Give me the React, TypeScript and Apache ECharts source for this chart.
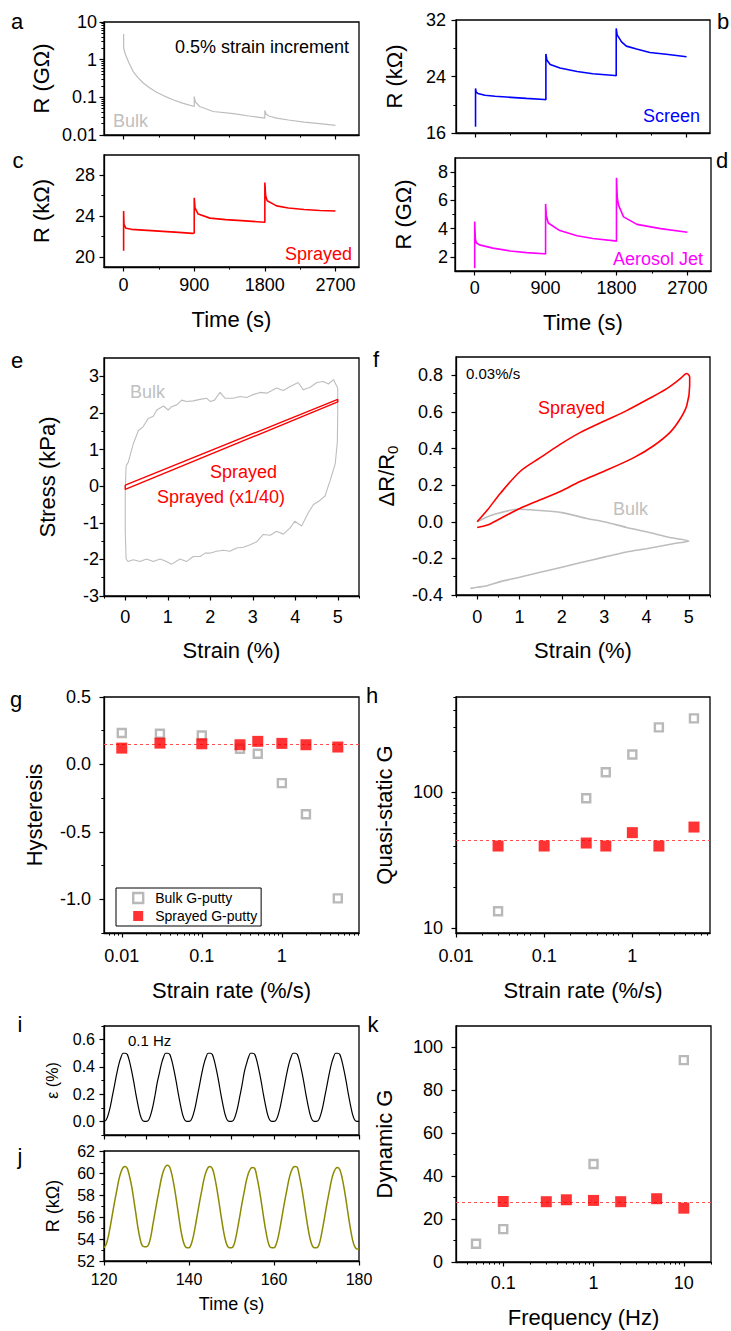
import React, { useEffect, useRef } from "react";
import * as echarts from "echarts";

const FONT = "'Liberation Sans', Arial, Helvetica, sans-serif";

// ---------------- data ----------------
// a: bulk G-putty, step strain (GΩ)
const bulkStepTime = [0, 0, 15, 35, 70, 120, 180, 250, 330, 420, 520, 630, 760, 900, 900, 915, 970, 1140, 1400, 1600, 1800, 1800, 1815, 1850, 1950, 2100, 2300, 2500, 2700];
const bulkStepR = [4.8, 2.05, 1.55, 1.2, 0.8, 0.49, 0.34, 0.24, 0.18, 0.137, 0.108, 0.086, 0.069, 0.057, 0.105, 0.075, 0.057, 0.042, 0.037, 0.032, 0.028, 0.045, 0.036, 0.032, 0.028, 0.025, 0.022, 0.02, 0.018];
// b: screen printed (kΩ)
const screenTime = [0, 0, 8, 30, 120, 250, 450, 650, 880, 900, 900, 912, 955, 1080, 1300, 1500, 1780, 1800, 1800, 1812, 1868, 1930, 2060, 2230, 2440, 2700];
const screenR = [16.9, 22.3, 21.8, 21.6, 21.35, 21.2, 21.05, 20.9, 20.75, 20.7, 27.2, 26.35, 25.7, 25.2, 24.7, 24.4, 24.15, 24.1, 30.8, 29.9, 28.9, 28.3, 27.9, 27.4, 27.15, 26.8];
// c: sprayed (kΩ)
const sprayTime = [0, 0, 5, 30, 100, 300, 500, 700, 880, 900, 900, 910, 950, 1100, 1300, 1500, 1700, 1800, 1800, 1810, 1830, 1950, 2100, 2300, 2500, 2700];
const sprayR = [20.6, 24.5, 23.2, 22.8, 22.7, 22.6, 22.5, 22.4, 22.3, 22.35, 25.8, 24.8, 24.2, 23.8, 23.65, 23.55, 23.45, 23.4, 27.3, 26.0, 25.5, 25.0, 24.8, 24.65, 24.55, 24.5];
// d: aerosol jet (GΩ)
const aerosolTime = [0, 0, 8, 20, 60, 230, 450, 660, 880, 900, 900, 910, 934, 1080, 1300, 1500, 1780, 1800, 1800, 1810, 1827, 1890, 2060, 2360, 2700];
const aerosolR = [1.2, 4.5, 3.3, 3.0, 2.85, 2.62, 2.42, 2.3, 2.22, 2.2, 5.75, 4.9, 4.4, 3.86, 3.5, 3.3, 3.13, 3.1, 7.6, 6.2, 5.65, 4.83, 4.3, 4.0, 3.74];

// e: stress-strain loops
const bulkStressStrain = [0.02, 0.07, 0.19, 0.31, 0.42, 0.54, 0.66, 0.74, 0.9, 1.01, 1.09, 1.21, 1.33, 1.44, 1.6, 1.76, 1.92, 2.0, 2.1, 2.23, 2.35, 2.54, 2.7, 2.86, 3.01, 3.17, 3.33, 3.45, 3.56, 3.72, 3.88, 4.07, 4.19, 4.35, 4.51, 4.66, 4.78, 4.9, 4.98, 5.0, 5.0, 4.99, 4.94, 4.82, 4.7, 4.58, 4.43, 4.31, 4.15, 3.99, 3.88, 3.72, 3.56, 3.41, 3.25, 3.09, 2.94, 2.78, 2.62, 2.46, 2.31, 2.15, 1.99, 1.88, 1.76, 1.6, 1.44, 1.29, 1.09, 0.97, 0.82, 0.66, 0.5, 0.35, 0.19, 0.07, 0.02, 0, 0, 0, 0.02];
const bulkStress = [0.56, 0.65, 1.16, 1.52, 1.62, 1.85, 1.91, 2.08, 2.19, 2.08, 2.17, 2.22, 2.35, 2.31, 2.33, 2.37, 2.4, 2.31, 2.35, 2.56, 2.4, 2.4, 2.45, 2.42, 2.5, 2.56, 2.54, 2.61, 2.68, 2.61, 2.72, 2.83, 2.63, 2.7, 2.83, 2.86, 2.79, 2.91, 2.72, 2.67, 1.99, 1.2, 0.61, 0.15, -0.27, -0.39, -0.5, -0.72, -1.09, -0.96, -1.14, -1.31, -1.23, -1.34, -1.32, -1.52, -1.6, -1.67, -1.69, -1.78, -1.75, -1.78, -1.83, -1.83, -1.92, -1.92, -2.06, -1.99, -2.13, -2.06, -1.99, -2.06, -1.99, -2.06, -2.01, -2.06, -1.99, -1.23, -0.68, -0.13, 0.56];
const sprayStressStrain = [0, 5, 5, 0, 0];
const sprayStress = [0.03, 2.37, 2.3, -0.09, 0.03];

// f: relative resistance change vs strain
const sprayLoopStrain = [0, 0.24, 0.55, 1.02, 1.49, 1.96, 2.43, 3.0, 3.53, 4.0, 4.47, 4.79, 4.95, 5.02, 5.02, 4.95, 4.79, 4.55, 4.16, 3.69, 3.0, 2.43, 1.96, 1.49, 1.02, 0.55, 0.24, 0];
const sprayLoopDR = [0, 0.064, 0.156, 0.276, 0.35, 0.423, 0.487, 0.55, 0.607, 0.665, 0.726, 0.78, 0.81, 0.79, 0.745, 0.634, 0.56, 0.487, 0.414, 0.349, 0.276, 0.22, 0.165, 0.12, 0.074, 0.018, -0.018, -0.031];
const bulkLoopStrain = [0, 0.39, 1.0, 1.33, 2.0, 2.59, 3.0, 3.53, 4.0, 4.55, 5.0, 4.63, 4.0, 3.53, 3.0, 2.43, 2.0, 1.49, 1.0, 0.55, 0.235, 0, -0.16];
const bulkLoopDR = [0, 0.04, 0.068, 0.064, 0.05, 0.018, 0.0, -0.031, -0.055, -0.086, -0.105, -0.12, -0.147, -0.165, -0.193, -0.224, -0.248, -0.276, -0.303, -0.327, -0.349, -0.358, -0.364];

// g: hysteresis vs strain rate
const hystRate = [0.01, 0.03, 0.1, 0.3, 0.5, 1, 2, 5];
const hystBulk = [0.233, 0.228, 0.215, 0.116, 0.079, -0.139, -0.369, -0.993];
const hystSprayed = [0.121, 0.158, 0.153, 0.146, 0.171, 0.156, 0.146, 0.129];
const hystSprayedMean = 0.146;

// h: quasi-static gauge factor
const qsBulkRate = [0.03, 0.3, 0.5, 1, 2, 5];
const qsBulk = [13.3, 90, 140, 189, 299, 348];
const qsSprayedRate = [0.03, 0.1, 0.3, 0.5, 1, 2, 5];
const qsSprayed = [40.1, 40.1, 42.2, 40.1, 50.3, 40.1, 55.3];
const qsSprayedMean = 44.1;

// i, j: cyclic strain at 0.1 Hz, sampled every 0.5 s from 120 s
const cycleStart = 120;
const cycleStep = 0.5;
const cycleStrain = [
  0.00, 0.01, 0.05, 0.11, 0.19, 0.27, 0.35, 0.42, 0.47, 0.50, 0.50, 0.49, 0.44, 0.37, 0.29, 0.20, 0.12, 0.05, 0.01, 0.00,
  0.00, 0.01, 0.05, 0.11, 0.19, 0.28, 0.35, 0.42, 0.47, 0.50, 0.50, 0.49, 0.44, 0.37, 0.29, 0.20, 0.12, 0.05, 0.01, 0.00,
  0.00, 0.01, 0.05, 0.11, 0.19, 0.27, 0.35, 0.42, 0.47, 0.50, 0.50, 0.49, 0.44, 0.37, 0.29, 0.20, 0.12, 0.05, 0.01, 0.00,
  0.00, 0.01, 0.05, 0.11, 0.19, 0.27, 0.36, 0.42, 0.47, 0.50, 0.50, 0.49, 0.44, 0.37, 0.29, 0.20, 0.12, 0.05, 0.01, 0.00,
  0.00, 0.01, 0.05, 0.11, 0.19, 0.27, 0.35, 0.42, 0.47, 0.50, 0.50, 0.49, 0.44, 0.37, 0.29, 0.20, 0.12, 0.05, 0.01, 0.00,
  0.00, 0.01, 0.05, 0.11, 0.19, 0.27, 0.35, 0.42, 0.47, 0.50, 0.50, 0.49, 0.44, 0.37, 0.29, 0.20, 0.12, 0.05, 0.01, 0.00,
  0.00,
];
const cycleR = [
  53.2, 53.5, 54.2, 55.2, 56.3, 57.4, 58.4, 59.4, 60.1, 60.5, 60.6, 60.4, 59.7, 58.8, 57.6, 56.3, 55.0, 54.0, 53.4, 53.3,
  53.3, 53.5, 54.2, 55.3, 56.4, 57.5, 58.5, 59.5, 60.2, 60.6, 60.7, 60.5, 59.8, 58.8, 57.6, 56.3, 55.0, 54.0, 53.4, 53.2,
  53.2, 53.5, 54.2, 55.2, 56.3, 57.4, 58.4, 59.4, 60.1, 60.5, 60.6, 60.4, 59.7, 58.7, 57.5, 56.2, 55.0, 54.0, 53.4, 53.2,
  53.2, 53.4, 54.1, 55.1, 56.2, 57.3, 58.3, 59.3, 60.0, 60.4, 60.5, 60.4, 59.6, 58.6, 57.4, 56.1, 54.9, 53.9, 53.3, 53.2,
  53.2, 53.5, 54.2, 55.2, 56.3, 57.4, 58.4, 59.4, 60.1, 60.5, 60.6, 60.5, 59.7, 58.7, 57.5, 56.2, 55.0, 54.0, 53.4, 53.2,
  53.2, 53.4, 54.1, 55.1, 56.2, 57.3, 58.3, 59.3, 60.0, 60.4, 60.5, 60.3, 59.6, 58.6, 57.4, 56.1, 54.9, 53.9, 53.3, 53.1,
  53.1,
];

// k: dynamic gauge factor
const dynBulkFreq = [0.05, 0.1, 1, 10];
const dynBulk = [8.5, 15.3, 45.7, 94.1];
const dynSprayedFreq = [0.1, 0.3, 0.5, 1, 2, 5, 10];
const dynSprayed = [28.2, 28.1, 29.0, 28.7, 28.1, 29.5, 25.1];
const dynSprayedMean = 27.9;

// tick values
const timeMajor = [0, 900, 1800, 2700];
const timeMinor = [450, 1350, 2250];
const strainMajor = [0, 1, 2, 3, 4, 5];
const strainMinor = [-0.5, 0.5, 1.5, 2.5, 3.5, 4.5, 5.5];
const logMinor = (decades: number[], upTo = 9) => {
  const out: number[] = [];
  decades.forEach((d) => {
    for (let m = 2; m <= upTo; m++) out.push(+(m * d).toPrecision(3));
  });
  return out;
};

// ---------------- helpers ----------------
type AxisSpec = {
  type: "value" | "log";
  min: number;
  max: number;
  major: number[];
  minor: number[];
  labels?: boolean;
  fmt?: (v: number) => string;
  margin?: number;
  fontSize?: number;
  name?: string;
  nameGap?: number;
  nameSize?: number;
  rich?: any;
};

const TICK = 18;
const TITLE = 22;
const NOTE = 18;

function buildAxes(dim: "x" | "y", grid: number, s: AxisSpec) {
  const position = dim === "x" ? "bottom" : "left";
  const main: any = {
    type: s.type,
    gridIndex: grid,
    position,
    min: s.min,
    max: s.max,
    logBase: 10,
    axisLine: { show: true, onZero: false, lineStyle: { color: "#000", width: 1.3 } },
    axisTick: { show: true, inside: false, length: 4.5, customValues: s.major, lineStyle: { color: "#000", width: 1.2 } },
    axisLabel: {
      show: s.labels !== false,
      customValues: s.major,
      margin: s.margin ?? 8,
      color: "#000",
      fontSize: s.fontSize ?? TICK,
      fontFamily: FONT,
      formatter: s.fmt ?? ((v: number) => String(v)),
      hideOverlap: false,
    },
    splitLine: { show: false },
    minorTick: { show: false },
    minorSplitLine: { show: false },
  };
  if (s.name) {
    main.name = s.name;
    main.nameLocation = "middle";
    main.nameGap = s.nameGap;
    main.nameTextStyle = { color: "#000", fontSize: s.nameSize ?? TITLE, fontFamily: FONT, rich: s.rich };
  }
  const minor: any = {
    type: s.type,
    gridIndex: grid,
    position,
    min: s.min,
    max: s.max,
    logBase: 10,
    axisLine: { show: false, onZero: false },
    axisTick: { show: true, inside: false, length: 2.6, customValues: s.minor, lineStyle: { color: "#000", width: 1 } },
    axisLabel: { show: false },
    splitLine: { show: false },
  };
  return [main, minor];
}

function buildOption() {
  const grids: any[] = [];
  const xAxes: any[] = [];
  const yAxes: any[] = [];
  const series: any[] = [];

  const panel = (rect: number[], xs: AxisSpec, ys: AxisSpec) => {
    const g = grids.length;
    grids.push({
      left: rect[0], top: rect[1], width: rect[2], height: rect[3],
      show: true, borderColor: "#000", borderWidth: 1.3, backgroundColor: "transparent",
    });
    const xi = xAxes.length;
    xAxes.push(...buildAxes("x", g, xs));
    const yi = yAxes.length;
    yAxes.push(...buildAxes("y", g, ys));
    return { xi, yi };
  };

  const line = (p: any, xs: number[], ys: number[], color: string, width = 1.2, smooth: any = false) => ({
    type: "line",
    xAxisIndex: p.xi,
    yAxisIndex: p.yi,
    data: xs.map((x, i) => [x, ys[i]]),
    showSymbol: false,
    symbol: "none",
    smooth,
    lineStyle: { color, width },
    itemStyle: { color },
    silent: true,
  });

  const hollow = (p: any, name: string, xs: number[], ys: number[]) => ({
    type: "scatter",
    name,
    xAxisIndex: p.xi,
    yAxisIndex: p.yi,
    data: xs.map((x, i) => [x, ys[i]]),
    symbol: "rect",
    symbolSize: 8,
    itemStyle: { color: "#ffffff", borderColor: "#b9b9b9", borderWidth: 2.4, opacity: 1 },
    silent: true,
    z: 3,
  });

  const filled = (p: any, name: string, xs: number[], ys: number[], mean: number) => ({
    type: "scatter",
    name,
    xAxisIndex: p.xi,
    yAxisIndex: p.yi,
    data: xs.map((x, i) => [x, ys[i]]),
    symbol: "rect",
    symbolSize: 11,
    itemStyle: { color: "#ff0000" },
    silent: true,
    z: 4,
    markLine: {
      silent: true,
      symbol: ["none", "none"],
      label: { show: false },
      lineStyle: { color: "#ff4d4d", type: [3, 3], width: 1.2 },
      data: [{ yAxis: mean }],
      z: 2,
    },
  });

  const timeX = (labels: boolean): AxisSpec => ({
    type: "value", min: -250, max: 3000, major: timeMajor, minor: timeMinor, labels,
    margin: 9, name: labels ? "Time (s)" : undefined, nameGap: 41,
  });
  const f1 = (v: number) => v.toFixed(1);

  // a
  const pa = panel([104, 22, 255, 113], timeX(false), {
    type: "log", min: 0.01, max: 10, major: [0.01, 0.1, 1, 10], minor: logMinor([0.01, 0.1, 1]),
    margin: 7, name: "R (GΩ)", nameGap: 52,
  });
  series.push(line(pa, bulkStepTime, bulkStepR, "#bdbdbd", 1.2));
  // b
  const pb = panel([456, 20, 254, 113], timeX(false), {
    type: "value", min: 16, max: 32, major: [16, 24, 32], minor: [20, 28],
    margin: 10, name: "R (kΩ)", nameGap: 51,
  });
  series.push(line(pb, screenTime, screenR, "#0000ff", 1.6));
  // c
  const pc = panel([104, 155, 255, 112], timeX(true), {
    type: "value", min: 19, max: 30, major: [20, 24, 28], minor: [22, 26],
    margin: 9, name: "R (kΩ)", nameGap: 52,
  });
  series.push(line(pc, sprayTime, sprayR, "#ff0000", 1.6));
  // d
  const pd = panel([455, 158, 256, 113], { ...timeX(true), margin: 8, nameGap: 40 }, {
    type: "value", min: 1, max: 9, major: [2, 4, 6, 8], minor: [3, 5, 7],
    margin: 7, name: "R (GΩ)", nameGap: 41,
  });
  series.push(line(pd, aerosolTime, aerosolR, "#ff00ff", 1.6));

  // e
  const pe = panel([104, 358, 255, 238], {
    type: "value", min: -0.5, max: 5.5, major: strainMajor, minor: strainMinor,
    margin: 12, name: "Strain (%)", nameGap: 43,
  }, {
    type: "value", min: -3, max: 3.5, major: [-3, -2, -1, 0, 1, 2, 3], minor: [-2.5, -1.5, -0.5, 0.5, 1.5, 2.5],
    margin: 5, name: "Stress (kPa)", nameGap: 46,
  });
  series.push(line(pe, bulkStressStrain, bulkStress, "#bdbdbd", 1.1));
  series.push(line(pe, sprayStressStrain, sprayStress, "#ff0000", 1.4));

  // f
  const pf = panel([456, 357, 254, 238], {
    type: "value", min: -0.5, max: 5.5, major: strainMajor, minor: strainMinor,
    margin: 13, name: "Strain (%)", nameGap: 44,
  }, {
    type: "value", min: -0.4, max: 0.9,
    major: [-0.4, -0.2, 0, 0.2, 0.4, 0.6, 0.8], minor: [-0.3, -0.1, 0.1, 0.3, 0.5, 0.7],
    fmt: f1, margin: 13, name: "ΔR/R{s|0}", nameGap: 56,
    rich: { s: { fontSize: 15, fontFamily: FONT, color: "#000", verticalAlign: "bottom", padding: [12, 0, 0, 0] } },
  });
  series.push(line(pf, bulkLoopStrain, bulkLoopDR, "#bdbdbd", 1.6, 0.3));
  series.push(line(pf, sprayLoopStrain, sprayLoopDR, "#ff0000", 1.6, 0.3));

  // g
  const pg = panel([104, 697, 255, 236], {
    type: "log", min: 0.006, max: 9.2, major: [0.01, 0.1, 1],
    minor: [0.007, 0.008, 0.009, ...logMinor([0.01, 0.1, 1])],
    margin: 14, name: "Strain rate (%/s)", nameGap: 46,
  }, {
    type: "value", min: -1.25, max: 0.5, major: [-1, -0.5, 0, 0.5], minor: [-1.25, -0.75, -0.25, 0.25],
    fmt: f1, margin: 13, name: "Hysteresis", nameGap: 59,
  });
  series.push(hollow(pg, "Bulk G-putty", hystRate, hystBulk));
  series.push(filled(pg, "Sprayed G-putty", hystRate, hystSprayed, hystSprayedMean));

  // h
  const ph = panel([456, 697, 254, 236], {
    type: "log", min: 0.01, max: 7.6, major: [0.01, 0.1, 1], minor: logMinor([0.01, 0.1, 1], 7),
    margin: 14, name: "Strain rate (%/s)", nameGap: 46,
  }, {
    type: "log", min: 9.2, max: 500, major: [10, 100], minor: [...logMinor([10]), 200, 300, 400, 500],
    margin: 13, name: "Quasi-static G", nameGap: 61,
  });
  series.push(hollow(ph, "Bulk G-putty", qsBulkRate, qsBulk));
  series.push(filled(ph, "Sprayed G-putty", qsSprayedRate, qsSprayed, qsSprayedMean));

  // i
  const cycleTime = cycleStrain.map((_, k) => cycleStart + k * cycleStep);
  const pi = panel([104, 1026, 255, 109], {
    type: "value", min: 120, max: 180, major: [120, 130, 140, 150, 160, 170, 180],
    minor: [125, 135, 145, 155, 165, 175], labels: false,
  }, {
    type: "value", min: -0.1, max: 0.7, major: [0, 0.2, 0.4, 0.6], minor: [-0.1, 0.1, 0.3, 0.5, 0.7],
    fmt: f1, margin: 9, fontSize: 16, name: "ε (%)", nameGap: 44, nameSize: 16,
  });
  series.push(line(pi, cycleTime, cycleStrain, "#000000", 1.2, 0.35));

  // j
  const pj = panel([104, 1151, 255, 110], {
    type: "value", min: 120, max: 180, major: [120, 140, 160, 180], minor: [130, 150, 170],
    margin: 10, fontSize: 16, name: "Time (s)", nameGap: 34, nameSize: 18,
  }, {
    type: "value", min: 52, max: 62, major: [52, 54, 56, 58, 60, 62], minor: [53, 55, 57, 59, 61],
    margin: 9, fontSize: 16, name: "R (kΩ)", nameGap: 42, nameSize: 18,
  });
  series.push(line(pj, cycleTime, cycleR, "#8c8a00", 1.5, 0.35));

  // k
  const pk = panel([456, 1026, 255, 236], {
    type: "log", min: 0.03, max: 20, major: [0.1, 1, 10],
    minor: [0.04, 0.05, 0.06, 0.07, 0.08, 0.09, ...logMinor([0.1, 1]), 20],
    margin: 12, name: "Frequency (Hz)", nameGap: 44,
  }, {
    type: "value", min: 0, max: 110, major: [0, 20, 40, 60, 80, 100], minor: [10, 30, 50, 70, 90],
    margin: 13, name: "Dynamic G", nameGap: 61,
  });
  series.push(hollow(pk, "Bulk G-putty", dynBulkFreq, dynBulk));
  series.push(filled(pk, "Sprayed G-putty", dynSprayedFreq, dynSprayed, dynSprayedMean));

  const txt = (text: string, x: number, y: number, color = "#000", size = NOTE, align = "left") => ({
    type: "text",
    x,
    y,
    silent: true,
    z: 100,
    style: { text, fill: color, fontSize: size, fontFamily: FONT, align, verticalAlign: "middle" },
  });

  const graphics = [
    txt("a", 17, 21, "#000", 22, "center"),
    txt("b", 723, 21, "#000", 22, "center"),
    txt("c", 18, 160, "#000", 22, "center"),
    txt("d", 722, 160, "#000", 22, "center"),
    txt("e", 17, 360, "#000", 22, "center"),
    txt("f", 376, 359, "#000", 22, "center"),
    txt("g", 16, 699, "#000", 22, "center"),
    txt("h", 372, 695, "#000", 22, "center"),
    txt("i", 20, 1024, "#000", 22, "center"),
    txt("j", 20, 1156, "#000", 22, "center"),
    txt("k", 373, 1024, "#000", 22, "center"),
    txt("0.5% strain increment", 175, 47, "#000", NOTE),
    txt("Bulk", 113, 121, "#c0c0c0", NOTE),
    txt("Screen", 643, 116, "#0000ff", NOTE),
    txt("Sprayed", 352, 254, "#ff0000", NOTE, "right"),
    txt("Aerosol Jet", 703, 259, "#ff00ff", NOTE, "right"),
    txt("Bulk", 130, 392, "#c0c0c0", NOTE),
    txt("Sprayed", 210, 472, "#ff0000", NOTE),
    txt("Sprayed (x1/40)", 157, 497, "#ff0000", NOTE),
    txt("0.03%/s", 466, 373, "#000", 15),
    txt("Sprayed", 538, 408, "#ff0000", NOTE),
    txt("Bulk", 613, 509, "#c0c0c0", NOTE),
    txt("0.1 Hz", 128, 1040, "#000", 15),
  ];

  return {
    animation: false,
    backgroundColor: "#ffffff",
    textStyle: { fontFamily: FONT },
    grid: grids,
    xAxis: xAxes,
    yAxis: yAxes,
    series,
    legend: {
      show: true,
      left: 116,
      top: 888,
      orient: "vertical",
      selectedMode: false,
      itemWidth: 10,
      itemHeight: 10,
      itemGap: 4,
      padding: [3, 4, 3, 16],
      borderColor: "#000",
      borderWidth: 1,
      backgroundColor: "#fff",
      textStyle: { fontSize: 14, color: "#000", fontFamily: FONT, padding: [0, 0, 0, 7] },
      data: [
        { name: "Bulk G-putty", icon: "rect", itemStyle: { color: "#fff", borderColor: "#b9b9b9", borderWidth: 2.4 } },
        { name: "Sprayed G-putty", icon: "rect", itemStyle: { color: "#ff0000", borderWidth: 0 } },
      ],
    },
    graphic: { elements: graphics },
  };
}

export default function App() {
  const ref = useRef<HTMLDivElement>(null);
  useEffect(() => {
    if (!ref.current) return;
    const chart = echarts.init(ref.current, undefined, { renderer: "svg" });
    chart.setOption(buildOption() as any);
    return () => chart.dispose();
  }, []);
  return (
    <div
      ref={ref}
      style={{ position: "absolute", left: 0, top: 0, width: 731, height: 1331, background: "#fff" }}
    />
  );
}
